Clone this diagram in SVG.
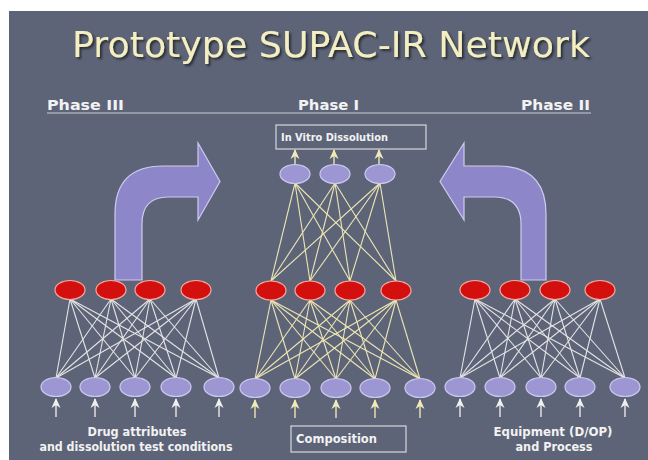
<svg xmlns="http://www.w3.org/2000/svg" width="648" height="460" viewBox="0 0 648 460">
<defs>
<style>
.bg{fill:#5e6478}
.title{font-family:"DejaVu Sans","Liberation Sans",sans-serif;font-size:36px;fill:#f4efc2}
.phase{font-family:"DejaVu Sans","Liberation Sans",sans-serif;font-size:14px;font-weight:bold;fill:#f2f2f2}
.lbl{font-family:"DejaVu Sans","Liberation Sans",sans-serif;font-size:11.5px;font-weight:bold;fill:#f2f2f2}
.small{font-family:"DejaVu Sans","Liberation Sans",sans-serif;font-size:10px;font-weight:bold;fill:#f2f2f2}
.box{fill:none;stroke:#d8d8d8;stroke-width:1.2}
.red{fill:#d4100e;stroke:#f4a8a0;stroke-width:1.2}
.pur{fill:#9c96d2;stroke:#cdc8f0;stroke-width:1.2}
.big{fill:#8d87c9;stroke:#cfcaf0;stroke-width:1.2}
.w line{stroke:#e4e4e4;stroke-width:1.1}
.y line{stroke:#ece6b4;stroke-width:1.1}
.inw{stroke:#e8e8e8;stroke-width:1.4;marker-end:url(#aw)}
.iny{stroke:#ece6b4;stroke-width:1.4;marker-end:url(#ay)}
</style>
<filter id="sh" x="-5%" y="-20%" width="110%" height="140%">
<feDropShadow dx="2" dy="2" stdDeviation="0.8" flood-color="#22252f" flood-opacity="0.9"/>
</filter>
<marker id="aw" markerWidth="10" markerHeight="10" refX="9" refY="5" orient="auto" markerUnits="userSpaceOnUse" viewBox="0 0 10 10">
<path d="M10,5 L0,0.5 L3,5 L0,9.5 Z" fill="#f0f0f0"/>
</marker>
<marker id="ay" markerWidth="10" markerHeight="10" refX="9" refY="5" orient="auto" markerUnits="userSpaceOnUse" viewBox="0 0 10 10">
<path d="M10,5 L0,0.5 L3,5 L0,9.5 Z" fill="#f0eab8"/>
</marker>
</defs>
<rect x="0" y="0" width="648" height="460" fill="#ffffff"/>
<rect class="bg" x="9" y="11" width="639" height="449"/>

<g id="title">
<text class="title" x="72" y="57" textLength="518" lengthAdjust="spacingAndGlyphs" filter="url(#sh)">Prototype SUPAC-IR Network</text>
</g>

<g id="phases">
<line x1="47" y1="113" x2="591" y2="113" stroke="#c8cad4" stroke-width="1.2"/>
<text class="phase" x="47" y="110" textLength="77" lengthAdjust="spacingAndGlyphs">Phase III</text>
<text class="phase" x="298" y="110" textLength="61" lengthAdjust="spacingAndGlyphs">Phase I</text>
<text class="phase" x="521" y="110" textLength="69" lengthAdjust="spacingAndGlyphs">Phase II</text>
</g>

<g id="bigArrowLeft">
<path class="big" d="M115,280 L115,214 Q115,166 163,166 L198,166 L198,143 L220,181.5 L198,220 L198,197 L168,197 Q142,197 142,224 L142,280 Z"/>
</g>
<g id="bigArrowRight">
<path class="big" d="M546,280 L546,214 Q546,166 498,166 L464,166 L464,143 L440,181.5 L464,220 L464,197 L494,197 Q521,197 521,224 L521,280 Z"/>
</g>

<g id="connectors">
<g class="w">
<line x1="70" y1="299" x2="56" y2="378"/><line x1="70" y1="299" x2="95" y2="378"/><line x1="70" y1="299" x2="135" y2="378"/><line x1="70" y1="299" x2="176" y2="378"/><line x1="70" y1="299" x2="219" y2="378"/>
<line x1="111" y1="299" x2="56" y2="378"/><line x1="111" y1="299" x2="95" y2="378"/><line x1="111" y1="299" x2="135" y2="378"/><line x1="111" y1="299" x2="176" y2="378"/><line x1="111" y1="299" x2="219" y2="378"/>
<line x1="150" y1="299" x2="56" y2="378"/><line x1="150" y1="299" x2="95" y2="378"/><line x1="150" y1="299" x2="135" y2="378"/><line x1="150" y1="299" x2="176" y2="378"/><line x1="150" y1="299" x2="219" y2="378"/>
<line x1="196" y1="299" x2="56" y2="378"/><line x1="196" y1="299" x2="95" y2="378"/><line x1="196" y1="299" x2="135" y2="378"/><line x1="196" y1="299" x2="176" y2="378"/><line x1="196" y1="299" x2="219" y2="378"/>
<line x1="475" y1="299" x2="460" y2="378"/><line x1="475" y1="299" x2="500" y2="378"/><line x1="475" y1="299" x2="541" y2="378"/><line x1="475" y1="299" x2="580" y2="378"/><line x1="475" y1="299" x2="625" y2="378"/>
<line x1="515" y1="299" x2="460" y2="378"/><line x1="515" y1="299" x2="500" y2="378"/><line x1="515" y1="299" x2="541" y2="378"/><line x1="515" y1="299" x2="580" y2="378"/><line x1="515" y1="299" x2="625" y2="378"/>
<line x1="555" y1="299" x2="460" y2="378"/><line x1="555" y1="299" x2="500" y2="378"/><line x1="555" y1="299" x2="541" y2="378"/><line x1="555" y1="299" x2="580" y2="378"/><line x1="555" y1="299" x2="625" y2="378"/>
<line x1="600" y1="299" x2="460" y2="378"/><line x1="600" y1="299" x2="500" y2="378"/><line x1="600" y1="299" x2="541" y2="378"/><line x1="600" y1="299" x2="580" y2="378"/><line x1="600" y1="299" x2="625" y2="378"/>
</g>
<g class="y">
<line x1="271" y1="300" x2="255" y2="379"/><line x1="271" y1="300" x2="295" y2="379"/><line x1="271" y1="300" x2="336" y2="379"/><line x1="271" y1="300" x2="375" y2="379"/><line x1="271" y1="300" x2="420" y2="379"/>
<line x1="310" y1="300" x2="255" y2="379"/><line x1="310" y1="300" x2="295" y2="379"/><line x1="310" y1="300" x2="336" y2="379"/><line x1="310" y1="300" x2="375" y2="379"/><line x1="310" y1="300" x2="420" y2="379"/>
<line x1="350" y1="300" x2="255" y2="379"/><line x1="350" y1="300" x2="295" y2="379"/><line x1="350" y1="300" x2="336" y2="379"/><line x1="350" y1="300" x2="375" y2="379"/><line x1="350" y1="300" x2="420" y2="379"/>
<line x1="396" y1="300" x2="255" y2="379"/><line x1="396" y1="300" x2="295" y2="379"/><line x1="396" y1="300" x2="336" y2="379"/><line x1="396" y1="300" x2="375" y2="379"/><line x1="396" y1="300" x2="420" y2="379"/>
<line x1="295" y1="183" x2="271" y2="281"/><line x1="295" y1="183" x2="310" y2="281"/><line x1="295" y1="183" x2="350" y2="281"/><line x1="295" y1="183" x2="396" y2="281"/>
<line x1="335" y1="183" x2="271" y2="281"/><line x1="335" y1="183" x2="310" y2="281"/><line x1="335" y1="183" x2="350" y2="281"/><line x1="335" y1="183" x2="396" y2="281"/>
<line x1="380" y1="183" x2="271" y2="281"/><line x1="380" y1="183" x2="310" y2="281"/><line x1="380" y1="183" x2="350" y2="281"/><line x1="380" y1="183" x2="396" y2="281"/>
</g>
<line class="iny" x1="295" y1="164" x2="295" y2="150"/>
<line class="iny" x1="334" y1="164" x2="334" y2="150"/>
<line class="iny" x1="379" y1="164" x2="379" y2="150"/>
<line class="inw" x1="56" y1="417" x2="56" y2="399"/>
<line class="inw" x1="95" y1="417" x2="95" y2="399"/>
<line class="inw" x1="135" y1="417" x2="135" y2="399"/>
<line class="inw" x1="176" y1="417" x2="176" y2="399"/>
<line class="inw" x1="219" y1="417" x2="219" y2="399"/>
<line class="iny" x1="255" y1="418" x2="255" y2="400"/>
<line class="iny" x1="295" y1="418" x2="295" y2="400"/>
<line class="iny" x1="336" y1="418" x2="336" y2="400"/>
<line class="iny" x1="375" y1="418" x2="375" y2="400"/>
<line class="iny" x1="420" y1="418" x2="420" y2="400"/>
<line class="inw" x1="460" y1="417" x2="460" y2="399"/>
<line class="inw" x1="500" y1="417" x2="500" y2="399"/>
<line class="inw" x1="541" y1="417" x2="541" y2="399"/>
<line class="inw" x1="580" y1="417" x2="580" y2="399"/>
<line class="inw" x1="625" y1="417" x2="625" y2="399"/>
</g>

<g id="inVitroBox">
<rect class="box" x="276" y="125" width="150" height="24"/>
<text class="small" x="281" y="141" textLength="107" lengthAdjust="spacingAndGlyphs">In Vitro Dissolution</text>
</g>

<g id="outputNodes">
<ellipse class="pur" cx="295" cy="174" rx="15" ry="9.5"/>
<ellipse class="pur" cx="335" cy="174" rx="15" ry="9.5"/>
<ellipse class="pur" cx="380" cy="174" rx="15" ry="9.5"/>
</g>

<g id="hiddenLeft">
<ellipse class="red" cx="70" cy="290" rx="15" ry="9.5"/>
<ellipse class="red" cx="111" cy="290" rx="15" ry="9.5"/>
<ellipse class="red" cx="150" cy="290" rx="15" ry="9.5"/>
<ellipse class="red" cx="196" cy="290" rx="15" ry="9.5"/>
</g>
<g id="hiddenMiddle">
<ellipse class="red" cx="271" cy="290.5" rx="15" ry="9.5"/>
<ellipse class="red" cx="310" cy="290.5" rx="15" ry="9.5"/>
<ellipse class="red" cx="350" cy="290.5" rx="15" ry="9.5"/>
<ellipse class="red" cx="396" cy="290.5" rx="15" ry="9.5"/>
</g>
<g id="hiddenRight">
<ellipse class="red" cx="475" cy="290" rx="15" ry="9.5"/>
<ellipse class="red" cx="515" cy="290" rx="15" ry="9.5"/>
<ellipse class="red" cx="555" cy="290" rx="15" ry="9.5"/>
<ellipse class="red" cx="600" cy="290" rx="15" ry="9.5"/>
</g>

<g id="inputLeft">
<ellipse class="pur" cx="56" cy="387" rx="15" ry="9.5"/>
<ellipse class="pur" cx="95" cy="387" rx="15" ry="9.5"/>
<ellipse class="pur" cx="135" cy="387" rx="15" ry="9.5"/>
<ellipse class="pur" cx="176" cy="387" rx="15" ry="9.5"/>
<ellipse class="pur" cx="219" cy="387" rx="15" ry="9.5"/>
</g>
<g id="inputMiddle">
<ellipse class="pur" cx="255" cy="388" rx="15" ry="9.5"/>
<ellipse class="pur" cx="295" cy="388" rx="15" ry="9.5"/>
<ellipse class="pur" cx="336" cy="388" rx="15" ry="9.5"/>
<ellipse class="pur" cx="375" cy="388" rx="15" ry="9.5"/>
<ellipse class="pur" cx="420" cy="388" rx="15" ry="9.5"/>
</g>
<g id="inputRight">
<ellipse class="pur" cx="460" cy="387" rx="15" ry="9.5"/>
<ellipse class="pur" cx="500" cy="387" rx="15" ry="9.5"/>
<ellipse class="pur" cx="541" cy="387" rx="15" ry="9.5"/>
<ellipse class="pur" cx="580" cy="387" rx="15" ry="9.5"/>
<ellipse class="pur" cx="625" cy="387" rx="15" ry="9.5"/>
</g>

<g id="labelLeft">
<text class="lbl" x="137" y="436" text-anchor="middle" textLength="99" lengthAdjust="spacingAndGlyphs">Drug attributes</text>
<text class="lbl" x="136" y="451" text-anchor="middle" textLength="193" lengthAdjust="spacingAndGlyphs">and dissolution test conditions</text>
</g>
<g id="compositionBox">
<rect class="box" x="291" y="426" width="115" height="26"/>
<text class="lbl" x="296" y="443" textLength="81" lengthAdjust="spacingAndGlyphs">Composition</text>
</g>
<g id="labelRight">
<text class="lbl" x="553" y="436" text-anchor="middle" textLength="119" lengthAdjust="spacingAndGlyphs">Equipment (D/OP)</text>
<text class="lbl" x="554" y="451" text-anchor="middle" textLength="77" lengthAdjust="spacingAndGlyphs">and Process</text>
</g>
</svg>
